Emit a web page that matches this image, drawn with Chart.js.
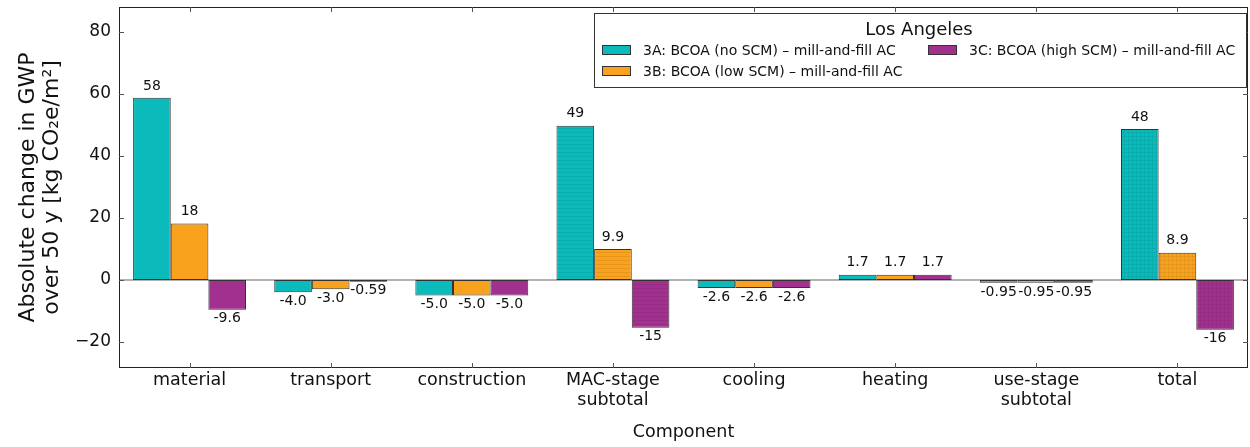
<!DOCTYPE html>
<html>
<head>
<meta charset="utf-8">
<script src="https://cdn.jsdelivr.net/npm/chart.js@4.4.1/dist/chart.umd.min.js"></script>
<style>
  html, body { margin: 0; padding: 0; background: #fff; }
  #wrap { width: 1250px; height: 447px; }
</style>
</head>
<body>
<div id="wrap"><canvas id="myChart" width="1250" height="447"></canvas></div>
<script>
// data
const categories = ["material", "transport", "construction", ["MAC-stage", "subtotal"], "cooling", "heating", ["use-stage", "subtotal"], "total"];
const seriesNames = ["3A: BCOA (no SCM) \u2013 mill-and-fill AC", "3B: BCOA (low SCM) \u2013 mill-and-fill AC", "3C: BCOA (high SCM) \u2013 mill-and-fill AC"];
const noScm = [58.7, -4.0, -5.0, 49.7, -2.6, 1.7, -0.95, 48.7];
const lowScm = [18.2, -3.0, -5.0, 10.0, -2.6, 1.7, -0.95, 8.8];
const highScm = [-9.6, -0.59, -5.0, -15.4, -2.6, 1.7, -0.95, -16.1];
const noScmLabels = ["58", "-4.0", "-5.0", "49", "-2.6", "1.7", "-0.95", "48"];
const lowScmLabels = ["18", "-3.0", "-5.0", "9.9", "-2.6", "1.7", "-0.95", "8.9"];
const highScmLabels = ["-9.6", "-0.59", "-5.0", "-15", "-2.6", "1.7", "-0.95", "-16"];
const yTicks = [-20, 0, 20, 40, 60, 80];

const colors = ["#0bbbbb", "#f8a21d", "#a2308f"];
const FONT = "'DejaVu Sans', sans-serif";

// hatch patterns for subtotal (lines) and total (grid)
function hatch(base, kind) {
  let c = document.createElement("canvas");
  c.width = 4; c.height = 4;
  let g = c.getContext("2d");
  g.fillStyle = base;
  g.fillRect(0, 0, 4, 4);
  g.fillStyle = "rgba(0,0,0,0.07)";
  g.fillRect(0, 0, 4, 1);
  if (kind === "grid") g.fillRect(0, 1, 1, 3);
  return g.createPattern(c, "repeat");
}

function barFill(i) {
  let lines = hatch(colors[i], "lines"), grid = hatch(colors[i], "grid");
  return function (ctx) {
    if (ctx.dataIndex === 3 || ctx.dataIndex === 6) return lines;
    if (ctx.dataIndex === 7) return grid;
    return colors[i];
  };
}

const allLabels = [noScmLabels, lowScmLabels, highScmLabels];

// value labels above / below bars
const valueLabels = {
  id: "valueLabels",
  afterDatasetsDraw(chart) {
    let ctx = chart.ctx;
    ctx.save();
    ctx.font = "14px " + FONT;
    ctx.fillStyle = "#111";
    ctx.textAlign = "center";
    chart.data.datasets.forEach((ds, d) => {
      chart.getDatasetMeta(d).data.forEach((bar, i) => {
        let v = ds.data[i];
        if (v >= 0) {
          ctx.textBaseline = "bottom";
          ctx.fillText(allLabels[d][i], bar.x, bar.y - 5);
        } else {
          ctx.textBaseline = "top";
          ctx.fillText(allLabels[d][i], bar.x, bar.y + 2);
        }
      });
    });
    ctx.restore();
  }
};

// frame, zero line, inward ticks and legend box
const frame = {
  id: "frame",
  beforeDatasetsDraw(chart) {
    let ctx = chart.ctx, a = chart.chartArea, y = chart.scales.y;
    ctx.save();
    ctx.strokeStyle = "#999";
    ctx.lineWidth = 1.5;
    let z = y.getPixelForValue(0);
    ctx.beginPath();
    ctx.moveTo(a.left, z);
    ctx.lineTo(a.right, z);
    ctx.stroke();
    ctx.restore();
  },
  afterDraw(chart) {
    let ctx = chart.ctx, a = chart.chartArea, x = chart.scales.x, y = chart.scales.y;
    ctx.save();
    ctx.strokeStyle = "#222";
    ctx.lineWidth = 1;
    ctx.strokeRect(a.left + 0.5, a.top + 0.5, a.right - a.left - 1, a.bottom - a.top - 1);
    ctx.strokeStyle = "#555";
    ctx.beginPath();
    yTicks.forEach(v => {
      let p = Math.round(y.getPixelForValue(v)) + 0.5;
      ctx.moveTo(a.left, p); ctx.lineTo(a.left + 5, p);
      ctx.moveTo(a.right, p); ctx.lineTo(a.right - 5, p);
    });
    categories.forEach((c, i) => {
      let p = Math.round(x.getPixelForValue(i)) + 0.5;
      ctx.moveTo(p, a.bottom); ctx.lineTo(p, a.bottom - 5);
      ctx.moveTo(p, a.top); ctx.lineTo(p, a.top + 5);
    });
    ctx.stroke();

    // legend
    let lx = 594, ly = 13, lw = 652, lh = 74;
    ctx.fillStyle = "#fff";
    ctx.fillRect(lx, ly, lw, lh);
    ctx.strokeStyle = "#333";
    ctx.strokeRect(lx + 0.5, ly + 0.5, lw, lh);
    ctx.fillStyle = "#111";
    ctx.textAlign = "center";
    ctx.textBaseline = "middle";
    ctx.font = "18px " + FONT;
    ctx.fillText("Los Angeles", 919, 30);
    ctx.font = "14px " + FONT;
    ctx.textAlign = "left";
    let spots = [[602, 50], [602, 71], [928, 50]];
    spots.forEach((s, i) => {
      ctx.fillStyle = colors[i];
      ctx.fillRect(s[0], s[1] - 5, 29, 10);
      ctx.strokeStyle = "#333";
      ctx.strokeRect(s[0] + 0.5, s[1] - 4.5, 28, 9);
      ctx.fillStyle = "#111";
      ctx.fillText(seriesNames[i], s[0] + 41, s[1] + 1);
    });
    ctx.restore();
  }
};

new Chart("myChart", {
  type: "bar",
  data: {
    labels: categories,
    datasets: [noScm, lowScm, highScm].map((vals, i) => ({
      label: seriesNames[i],
      data: vals,
      backgroundColor: barFill(i),
      borderColor: "#333",
      borderWidth: 1,
      borderSkipped: false,
      barPercentage: 1.0,
      categoryPercentage: 0.8
    }))
  },
  options: {
    responsive: false,
    animation: false,
    layout: { padding: { top: 7, right: 2, left: 16, bottom: 0 } },
    plugins: {
      legend: { display: false },
      tooltip: { enabled: false }
    },
    scales: {
      x: {
        grid: { display: false, drawTicks: false },
        border: { display: false },
        ticks: { color: "#111", font: { family: FONT, size: 17.5, lineHeight: 1.15 }, padding: 2, maxRotation: 0, autoSkip: false },
        title: { display: true, text: "Component", color: "#111", font: { family: FONT, size: 17.5 }, padding: { top: 10 } },
        afterFit(scale) { scale.height = 79; }
      },
      y: {
        min: -28.4,
        max: 88,
        grid: { display: false, drawTicks: false },
        border: { display: false },
        afterBuildTicks(scale) { scale.ticks = yTicks.map(v => ({ value: v })); },
        ticks: {
          color: "#111",
          font: { family: FONT, size: 17 },
          padding: 8,
          callback: v => (v < 0 ? "\u2212" + Math.abs(v) : "" + v)
        },
        title: {
          display: true,
          text: ["Absolute change in GWP", "over 50 y [kg CO\u2082e/m\u00b2]"],
          color: "#111",
          font: { family: FONT, size: 22, lineHeight: 1.1 },
          padding: 0
        },
        afterFit(scale) {
          scale.width = 103;
          scale.paddingTop = 0;
          scale.paddingBottom = 0;
        }
      }
    }
  },
  plugins: [frame, valueLabels]
});
</script>
</body>
</html>
